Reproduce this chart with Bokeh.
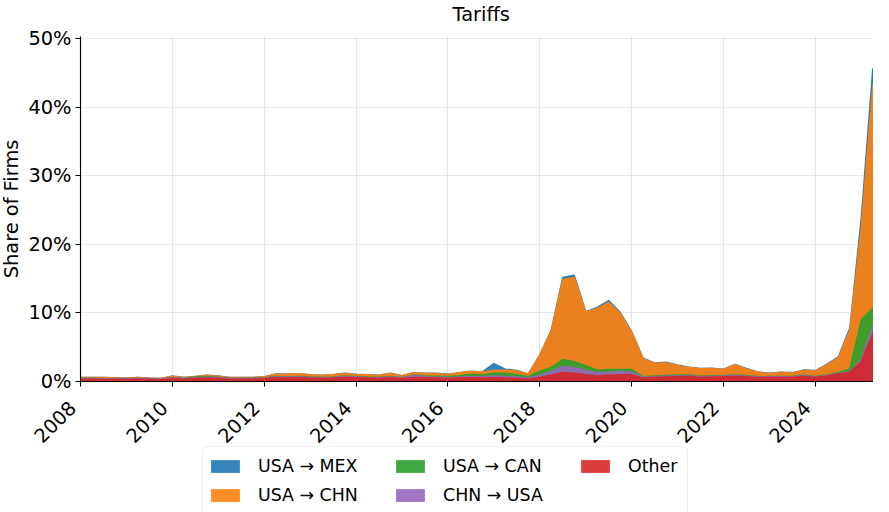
import math
from bokeh.plotting import figure
from bokeh.models import (ColumnDataSource, Legend, LegendItem, FixedTicker,
                          Range1d, BoxAnnotation, CustomJSTickFormatter, LinearAxis)
from bokeh.transform import stack
from bokeh.core.properties import value
from bokeh.embed import file_html
from bokeh.resources import INLINE

# quarterly observations, 2008Q1 .. 2025Q3 (positions in decimal years)
quarters = [2008 + 0.25 * i for i in range(71)]

# Share of firms (%) by tariff category
other = [0.35, 0.35, 0.3, 0.3, 0.3, 0.35, 0.3, 0.25,
         0.4, 0.35, 0.45, 0.5, 0.45, 0.35, 0.35, 0.35,
         0.4, 0.55, 0.5, 0.55, 0.5, 0.45, 0.5, 0.6,
         0.55, 0.5, 0.45, 0.55, 0.4, 0.6, 0.55, 0.5,
         0.45, 0.5, 0.55, 0.5, 0.55, 0.5, 0.45, 0.35,
         0.6, 0.95, 1.3, 1.2, 1.0, 0.8, 0.9, 1.0,
         1.0, 0.5, 0.6, 0.65, 0.7, 0.75, 0.6, 0.65,
         0.7, 0.75, 0.7, 0.55, 0.6, 0.6, 0.6, 0.75,
         0.6, 0.8, 1.1, 1.3, 2.9, 7.0, 8.8]
chn_usa = [0.1, 0.1, 0.08, 0.08, 0.08, 0.08, 0.07, 0.07,
           0.1, 0.08, 0.1, 0.1, 0.1, 0.08, 0.08, 0.08,
           0.08, 0.12, 0.12, 0.12, 0.1, 0.1, 0.1, 0.12,
           0.12, 0.1, 0.1, 0.12, 0.1, 0.3, 0.15, 0.12,
           0.12, 0.15, 0.2, 0.2, 0.25, 0.2, 0.2, 0.15,
           0.3, 0.5, 0.9, 0.8, 0.6, 0.5, 0.4, 0.45,
           0.4, 0.12, 0.1, 0.12, 0.12, 0.1, 0.1, 0.1,
           0.1, 0.12, 0.1, 0.08, 0.08, 0.08, 0.1, 0.1,
           0.08, 0.08, 0.08, 0.1, 0.3, 1.0, 1.3]
usa_can = [0.03, 0.03, 0.03, 0.03, 0.03, 0.03, 0.03, 0.03,
           0.05, 0.05, 0.12, 0.15, 0.08, 0.04, 0.04, 0.04,
           0.04, 0.05, 0.05, 0.05, 0.05, 0.05, 0.05, 0.05,
           0.05, 0.05, 0.05, 0.05, 0.05, 0.05, 0.1, 0.15,
           0.15, 0.2, 0.3, 0.3, 0.4, 0.5, 0.35, 0.2,
           0.6, 0.6, 1.0, 0.9, 0.7, 0.35, 0.45, 0.3,
           0.35, 0.08, 0.1, 0.1, 0.12, 0.1, 0.08, 0.08,
           0.08, 0.1, 0.08, 0.06, 0.06, 0.06, 0.06, 0.08,
           0.06, 0.08, 0.15, 0.4, 5.8, 2.7, 1.4]
usa_chn = [0.10, 0.10, 0.17, 0.12, 0.07, 0.12, 0.08, 0.08,
           0.23, 0.10, 0.06, 0.13, 0.15, 0.11, 0.11, 0.11,
           0.16, 0.36, 0.41, 0.41, 0.33, 0.28, 0.33, 0.41,
           0.31, 0.33, 0.28, 0.46, 0.28, 0.33, 0.38, 0.41,
           0.31, 0.43, 0.43, 0.38, 0.40, 0.45, 0.55, 0.37,
           2.35, 5.35, 11.7, 12.3, 7.8, 9.0, 9.8, 8.2,
           5.45, 2.65, 1.85, 1.88, 1.41, 1.1, 1.07, 1.07,
           0.87, 1.48, 0.97, 0.66, 0.41, 0.56, 0.49, 0.72,
           0.81, 1.44, 2.12, 5.7, 13.5, 32.5, 14.5]
usa_mex = [0.02] * 36 + [1.0, 0.15, 0.05, 0.03,
           0.05, 0.1, 0.3, 0.3, 0.1, 0.15, 0.25, 0.15,
           0.1, 0.05, 0.05, 0.05, 0.05, 0.05, 0.05, 0.05,
           0.05, 0.05, 0.05, 0.05, 0.05, 0.05, 0.05, 0.05,
           0.05, 0.1, 0.15, 0.3, 1.5, 2.5, 1.0]

year_ticks = [2008, 2010, 2012, 2014, 2016, 2018, 2020, 2022, 2024]
year_labels = ["2008", "2010", "2012", "2014", "2016", "2018", "2020", "2022", "2024"]
pct_ticks = [0, 10, 20, 30, 40, 50]
pct_labels = ["0%", "10%", "20%", "30%", "40%", "50%"]

src = ColumnDataSource(dict(x=quarters, other=other, chn_usa=chn_usa,
                            usa_can=usa_can, usa_chn=usa_chn, usa_mex=usa_mex))

FONT = "DejaVu Sans"
X0 = 2008
PX_PER_YEAR = 801 / 17.44
PX_PER_PCT = 483 / 70.48
AX_TOP = 50.34                  # top of the axes box (y spine end)
Y_TOP = AX_TOP + 11 / PX_PER_PCT  # headroom so the "50%" label is not cut
Y_LOW = -20.14                  # room under the axis for year labels + legend
LEFT = 80                       # px left of the y axis for its labels
RIGHT_PANEL = 8                 # width Bokeh gives the y axis strip on the right
FRAME_W = LEFT + 801 - RIGHT_PANEL
FRAME_H = round((Y_TOP - Y_LOW) * PX_PER_PCT)
XS = X0 - LEFT / PX_PER_YEAR

p = figure(frame_width=FRAME_W, frame_height=FRAME_H, output_backend="svg",
           toolbar_location=None, y_axis_location=None,
           x_range=Range1d(XS, XS + FRAME_W / PX_PER_YEAR),
           y_range=Range1d(Y_LOW, Y_TOP),
           min_border_left=0, min_border_right=0, min_border_top=0,
           min_border_bottom=0)
p.outline_line_color = None
p.background_fill_color = "white"
p.border_fill_color = "white"

p.title.text = "Tariffs"
p.title.align = "left"
p.title.offset = 452
p.title.text_font = FONT
p.title.text_font_size = "19.4px"
p.title.text_font_style = "normal"
p.title.text_color = "black"
p.title.standoff = 0

p.xgrid.ticker = FixedTicker(ticks=year_ticks)
p.ygrid.ticker = FixedTicker(ticks=pct_ticks)
for g in (p.xgrid[0], p.ygrid[0]):
    g.grid_line_color = "#b0b0b0"
    g.grid_line_alpha = 0.3
    g.grid_line_width = 1.1
# keep grid lines inside the axes box
for kw in (dict(top=0), dict(right=X0), dict(bottom=AX_TOP)):
    p.add_layout(BoxAnnotation(fill_color="white", fill_alpha=1.0,
                               line_color=None, level="underlay", **kw))

series = [  # (stack keys, colour, label) drawn from the full stack downward
    (["other", "chn_usa", "usa_can", "usa_chn", "usa_mex"], "#1f77b4", "USA → MEX"),
    (["other", "chn_usa", "usa_can", "usa_chn"], "#ff7f0e", "USA → CHN"),
    (["other", "chn_usa", "usa_can"], "#2ca02c", "USA → CAN"),
    (["other", "chn_usa"], "#9467bd", "CHN → USA"),
    (["other"], "#d62728", "Other"),
]
items = []
for keys, col, lab in series:
    r = p.varea(x="x", y1=0, y2=stack(*keys), source=src,
                fill_color=col, fill_alpha=0.9)
    p.line(x="x", y=stack(*keys), source=src, line_color=col,
           line_alpha=0.9, line_width=1.4)
    items.append(LegendItem(label=lab, renderers=[r]))

# x axis on y = 0, y axis on x = 2008 (ticks pointing outwards, left / down)
xax = p.xaxis[0]
xax.fixed_location = 0
xax.bounds = (X0, XS + FRAME_W / PX_PER_YEAR)
xax.ticker = FixedTicker(ticks=year_ticks)
xax.major_tick_out = 5
xax.major_tick_in = 0
yax = LinearAxis(fixed_location=X0, bounds=(0, AX_TOP),
                 ticker=FixedTicker(ticks=pct_ticks),
                 major_tick_out=0, major_tick_in=5)
p.add_layout(yax, "right")
for ax in (xax, yax):
    ax.axis_line_color = "black"
    ax.axis_line_width = 1.1
    ax.major_tick_line_color = "black"
    ax.major_tick_line_width = 1.1
    ax.minor_tick_line_color = None
    ax.formatter = CustomJSTickFormatter(code="return ''")
    ax.major_label_text_font_size = "0px"
    ax.major_label_standoff = 0

# tick labels, axis title
txt = dict(text_font=value(FONT), text_color="black")
ylab_src = ColumnDataSource(dict(x=[X0] * len(pct_ticks), y=pct_ticks, text=pct_labels))
p.text(x="x", y="y", text="text", source=ylab_src, x_offset=-9,
       text_align="right", text_baseline="middle", text_font_size="19.4px", **txt)
xlab_src = ColumnDataSource(dict(x=year_ticks, y=[0] * len(year_ticks), text=year_labels))
p.text(x="x", y="y", text="text", source=xlab_src, angle=math.pi / 4,
       x_offset=-8, y_offset=23, text_align="right", text_baseline="middle",
       text_font_size="19.4px", **txt)
p.text(x=[X0], y=[AX_TOP / 2], text=["Share of Firms"], angle=math.pi / 2,
       x_offset=-69, text_align="center", text_baseline="middle",
       text_font_size="19.4px", **txt)

# legend: three columns inside a rounded light-grey frame
legend = Legend(items=items, orientation="vertical", ncols=3,
                location=(LEFT + 127, 14), glyph_width=36, glyph_height=16,
                label_standoff=15, spacing=9, padding=7, margin=0,
                label_width=125,
                label_text_font=FONT, label_text_font_size="17.4px",
                label_text_color="black", border_line_color=None,
                background_fill_alpha=0.0)
p.add_layout(legend, "center")
box_left = X0 + 122 / PX_PER_YEAR
p.add_layout(BoxAnnotation(left=box_left, right=box_left + 485 / PX_PER_YEAR,
                           top=-65 / PX_PER_PCT, bottom=Y_LOW - 1,
                           fill_color="white", fill_alpha=0.8,
                           line_color="#cccccc", line_width=1, border_radius=4,
                           level="underlay"))

open("out.html", "w").write(file_html(p, INLINE))
